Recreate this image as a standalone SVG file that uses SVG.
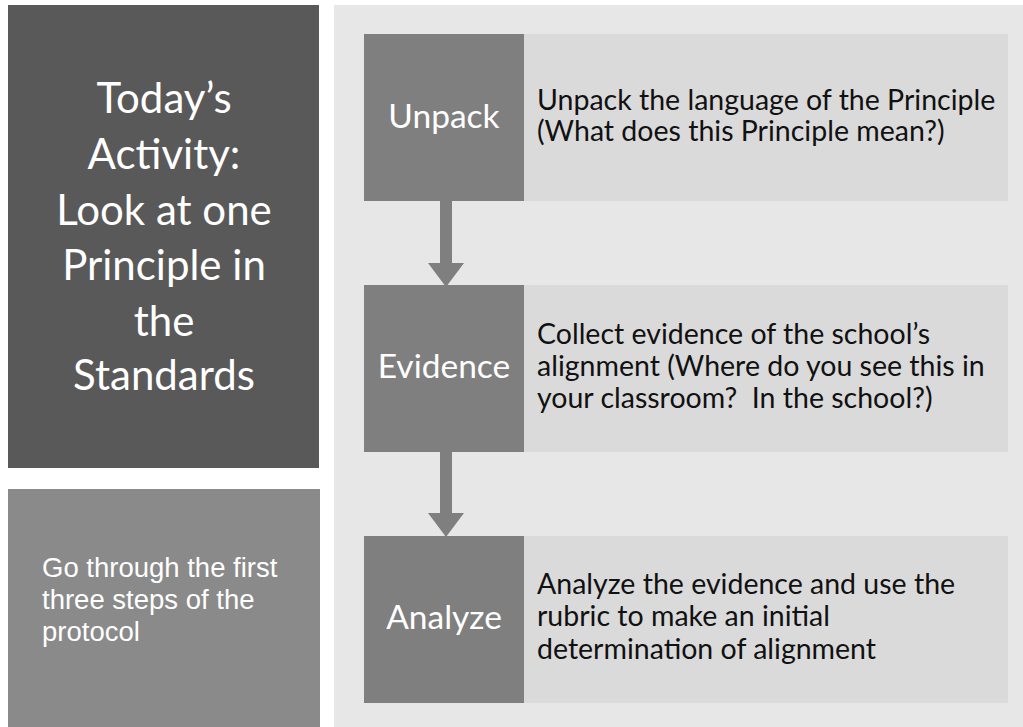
<svg xmlns="http://www.w3.org/2000/svg" width="1023" height="727" viewBox="0 0 1023 727">
<defs>
<style>
.bg{fill:#ffffff}
.panel{fill:#e7e7e7}
.title{fill:#595959}
.note{fill:#8a8a8a}
.step{fill:#7f7f7f}
.desc{fill:#dadada}
.big{font-family:Lato,"Open Sans",sans-serif;font-size:42px;fill:#ffffff;text-anchor:middle}
.small{font-family:"Liberation Sans",Arial,sans-serif;font-size:27.5px;fill:#ffffff}
.lab{font-family:Lato,"Open Sans",sans-serif;font-size:33.5px;fill:#ffffff;text-anchor:middle}
.txt{font-family:Lato,"Open Sans",sans-serif;font-size:28.5px;fill:#111111}
.arrow{fill:#7f7f7f}
</style>
</defs>
<rect class="bg" x="0" y="0" width="1023" height="727"/>
<rect class="panel" x="334" y="5" width="689" height="722"/>

<g id="title">
<rect class="title" x="8" y="5" width="311" height="463"/>
<text class="big" x="164" y="113">Today’s</text>
<text class="big" x="164" y="169">Activity:</text>
<text class="big" x="164" y="225">Look at one</text>
<text class="big" x="164" y="280">Principle in</text>
<text class="big" x="164" y="336">the</text>
<text class="big" x="164" y="390">Standards</text>
</g>

<g id="note">
<rect class="note" x="8" y="489" width="312" height="238"/>
<text class="small" x="42" y="577">Go through the first</text>
<text class="small" x="42" y="609">three steps of the</text>
<text class="small" x="42" y="641">protocol</text>
</g>

<g id="connectors">
<rect class="arrow" x="440" y="200" width="12" height="64"/>
<polygon class="arrow" points="428,263 464,263 446,287"/>
<rect class="arrow" x="440" y="451" width="12" height="63"/>
<polygon class="arrow" points="428,513 464,513 446,537"/>
</g>

<g id="unpack">
<rect class="desc" x="524" y="34" width="484" height="167"/>
<rect class="step" x="364" y="34" width="160" height="167"/>
<text class="lab" x="444" y="128">Unpack</text>
<text class="txt" x="537" y="110">Unpack the language of the Principle</text>
<text class="txt" x="537" y="141">(What does this Principle mean?)</text>
</g>

<g id="evidence">
<rect class="desc" x="524" y="285" width="484" height="167"/>
<rect class="step" x="364" y="285" width="160" height="167"/>
<text class="lab" x="444" y="378">Evidence</text>
<text class="txt" x="537" y="344">Collect evidence of the school’s</text>
<text class="txt" x="537" y="376">alignment (Where do you see this in</text>
<text class="txt" x="537" y="408" xml:space="preserve">your classroom?  In the school?)</text>
</g>

<g id="analyze">
<rect class="desc" x="524" y="536" width="484" height="167"/>
<rect class="step" x="364" y="536" width="160" height="167"/>
<text class="lab" x="444" y="629">Analyze</text>
<text class="txt" x="537" y="594">Analyze the evidence and use the</text>
<text class="txt" x="537" y="626">rubric to make an initial</text>
<text class="txt" x="537" y="659">determination of alignment</text>
</g>
</svg>
